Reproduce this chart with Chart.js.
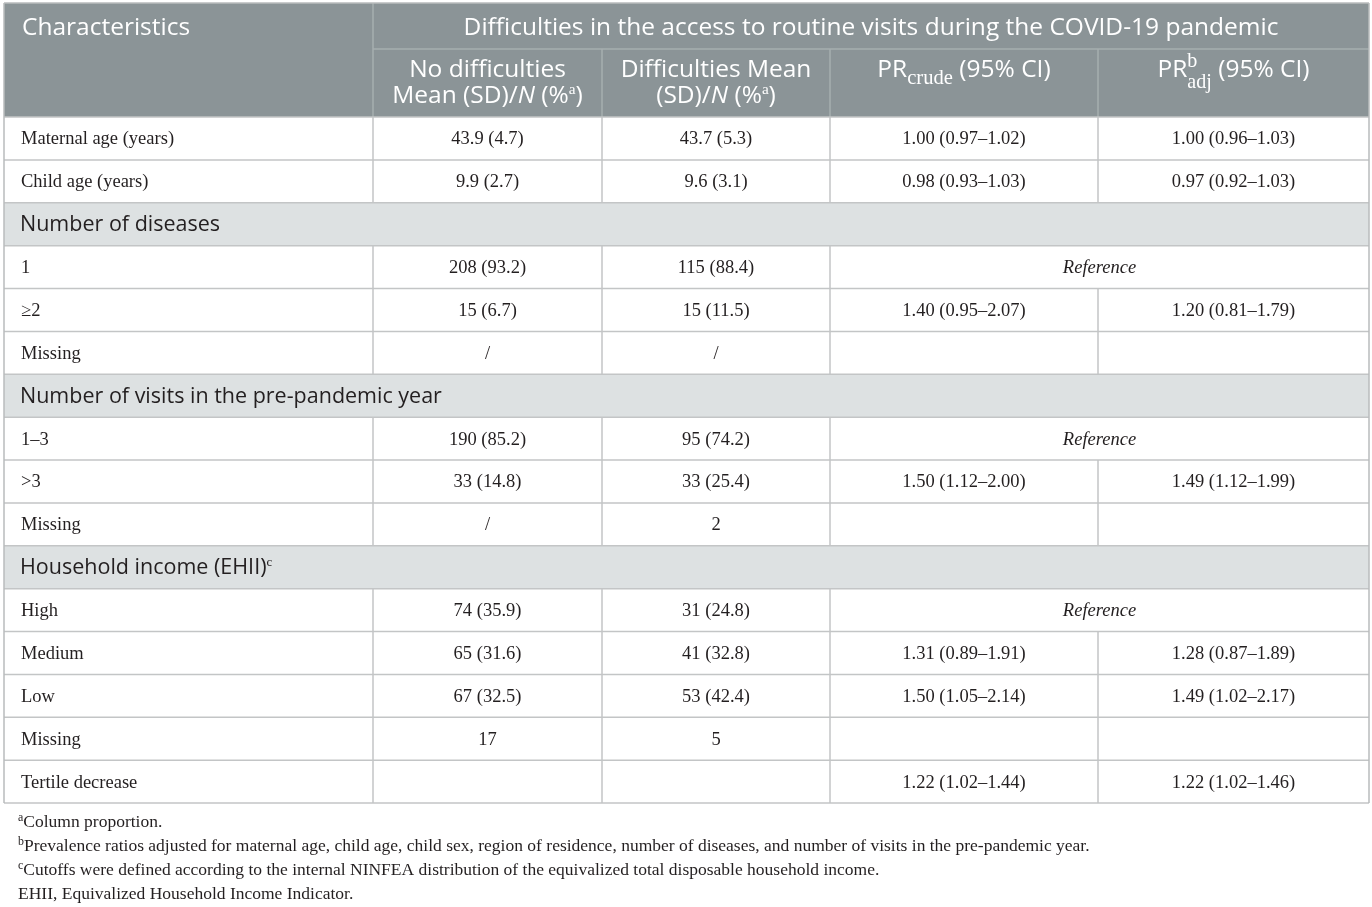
<!DOCTYPE html>
<html>
<head>
<meta charset="utf-8">
<script src="https://cdn.jsdelivr.net/npm/chart.js@4.4.1/dist/chart.umd.min.js"></script>
<style>
html,body{margin:0;padding:0;background:#fff;}
#wrap{position:absolute;left:0;top:0;width:1372px;height:907px;}
</style>
</head>
<body>
<div id="wrap"><canvas id="c"></canvas></div>
<script>
// ---------- DATA ----------
const headerTitle = "Difficulties in the access to routine visits during the COVID-19 pandemic";
const firstColumnTitle = "Characteristics";
const characteristics = ["Maternal age (years)","Child age (years)","Number of diseases","1","≥2","Missing","Number of visits in the pre-pandemic year","1–3",">3","Missing","Household income (EHII)","High","Medium","Low","Missing","Tertile decrease"];
const isSection = [false,false,true,false,false,false,true,false,false,false,true,false,false,false,false,false];
const sectionSup = ["","","","","","","","","","","c","","","","",""];
const noDifficulties = ["43.9 (4.7)","9.9 (2.7)","","208 (93.2)","15 (6.7)","/","","190 (85.2)","33 (14.8)","/","","74 (35.9)","65 (31.6)","67 (32.5)","17",""];
const difficulties = ["43.7 (5.3)","9.6 (3.1)","","115 (88.4)","15 (11.5)","/","","95 (74.2)","33 (25.4)","2","","31 (24.8)","41 (32.8)","53 (42.4)","5",""];
const prCrude = ["1.00 (0.97–1.02)","0.98 (0.93–1.03)","","Reference","1.40 (0.95–2.07)","","","Reference","1.50 (1.12–2.00)","","","Reference","1.31 (0.89–1.91)","1.50 (1.05–2.14)","","1.22 (1.02–1.44)"];
const prAdj = ["1.00 (0.96–1.03)","0.97 (0.92–1.03)","","Reference","1.20 (0.81–1.79)","","","Reference","1.49 (1.12–1.99)","","","Reference","1.28 (0.87–1.89)","1.49 (1.02–2.17)","","1.22 (1.02–1.46)"];
const footnotes = [
  ["a","Column proportion."],
  ["b","Prevalence ratios adjusted for maternal age, child age, child sex, region of residence, number of diseases, and number of visits in the pre-pandemic year."],
  ["c","Cutoffs were defined according to the internal NINFEA distribution of the equivalized total disposable household income."],
  ["","EHII, Equivalized Household Income Indicator."]
];

// ---------- LAYOUT (scale units) ----------
const colEdges = [0, 369, 598, 826, 1094, 1365];
const headRow1 = 46, headRow2 = 114, tableEnd = 800;
const bodyRowH = (tableEnd - headRow2) / characteristics.length;

const SANS = '"Open Sans", "Noto Sans", sans-serif';
const SERIF = '"Liberation Serif", "Times New Roman", serif';

function fnt(size, fam, italic){ return (italic ? 'italic ' : '') + size + 'px ' + fam; }

// rich text: runs [{t, i, sup, sub, fam, k (size factor), stack}]
function runSize(r, base){ return base.size * (r.k || ((r.sup || r.sub) ? 0.65 : 1)); }
function runWidth(ctx, r, base){
  if (r.stack){
    ctx.font = fnt(base.size * (r.k || 0.8), SERIF, false);
    return Math.max(ctx.measureText(r.stack[0]).width, ctx.measureText(r.stack[1]).width);
  }
  ctx.font = fnt(runSize(r, base), r.fam || base.fam, r.i);
  return ctx.measureText(r.t).width;
}
function drawRuns(ctx, runs, x, y, base, align){
  let w = 0;
  for (const r of runs) w += runWidth(ctx, r, base);
  let cx = align === 'center' ? x - w/2 : x;
  ctx.textBaseline = 'alphabetic';
  ctx.textAlign = 'left';
  ctx.fillStyle = base.color;
  for (const r of runs){
    const rw = runWidth(ctx, r, base);
    if (r.stack){
      ctx.fillText(r.stack[0], cx, y - base.size*0.40);
      ctx.fillText(r.stack[1], cx, y + base.size*0.44);
    } else {
      let dy = 0;
      if (r.sup) dy = -base.size*(r.dy || 0.36);
      if (r.sub) dy = base.size*(r.dy || 0.26);
      ctx.fillText(r.t, cx, y + dy);
    }
    cx += rw;
  }
}

const tablePlugin = {
  id: 'tablePlugin',
  afterDraw(chart){
    const ctx = chart.ctx;
    const xs = chart.scales.x, ys = chart.scales.y;
    const X = v => xs.getPixelForValue(v);
    const Y = v => ys.getPixelForValue(v);
    const L = X(colEdges[0]), R = X(colEdges[colEdges.length-1]);
    ctx.save();

    // header background
    ctx.fillStyle = '#8b9497';
    ctx.fillRect(L, Y(0), R-L, Y(headRow2)-Y(0));
    // section backgrounds
    characteristics.forEach((c, i) => {
      if (!isSection[i]) return;
      const y0 = Y(headRow2 + i*bodyRowH), y1 = Y(headRow2 + (i+1)*bodyRowH);
      ctx.fillStyle = '#dde1e2';
      ctx.fillRect(L, y0, R-L, y1-y0);
    });

    // header lines
    ctx.strokeStyle = '#a7aeb0';
    ctx.lineWidth = 1.5;
    ctx.beginPath();
    ctx.moveTo(X(colEdges[1]), Y(0)); ctx.lineTo(X(colEdges[1]), Y(headRow2));
    ctx.moveTo(X(colEdges[1]), Y(headRow1)); ctx.lineTo(R, Y(headRow1));
    for (let k = 2; k < colEdges.length-1; k++){
      ctx.moveTo(X(colEdges[k]), Y(headRow1)); ctx.lineTo(X(colEdges[k]), Y(headRow2));
    }
    ctx.stroke();

    // body lines
    ctx.strokeStyle = '#c3c5c6';
    ctx.lineWidth = 1.5;
    ctx.beginPath();
    for (let i = 0; i <= characteristics.length; i++){
      const yy = Y(headRow2 + i*bodyRowH);
      ctx.moveTo(L, yy); ctx.lineTo(R, yy);
    }
    characteristics.forEach((c, i) => {
      if (isSection[i]) return;
      const y0 = Y(headRow2 + i*bodyRowH), y1 = Y(headRow2 + (i+1)*bodyRowH);
      const merged = prCrude[i] === 'Reference';
      for (let k = 1; k < colEdges.length-1; k++){
        if (merged && k === 4) continue;
        ctx.moveTo(X(colEdges[k]), y0); ctx.lineTo(X(colEdges[k]), y1);
      }
    });
    ctx.stroke();
    // outer border
    ctx.strokeStyle = '#b9bcbd';
    ctx.beginPath();
    ctx.moveTo(L, Y(0)); ctx.lineTo(R, Y(0));
    ctx.moveTo(L, Y(0)); ctx.lineTo(L, Y(tableEnd));
    ctx.moveTo(R, Y(0)); ctx.lineTo(R, Y(tableEnd));
    ctx.stroke();

    // header text
    const hb = {size: 24.5, fam: SANS, color: '#ffffff'};
    const supA = {t:'a', sup:true, fam:SERIF, k:0.62, dy:0.38};
    drawRuns(ctx, [{t: firstColumnTitle}], X(colEdges[0]) + 18, Y(headRow1/2) + 9, hb, 'left');
    drawRuns(ctx, [{t: headerTitle}], (X(colEdges[1]) + R)/2, Y(headRow1/2) + 9, hb, 'center');
    const c1 = (X(colEdges[1]) + X(colEdges[2]))/2, c2 = (X(colEdges[2]) + X(colEdges[3]))/2;
    const c3 = (X(colEdges[3]) + X(colEdges[4]))/2, c4 = (X(colEdges[4]) + R)/2;
    const l1 = Y(headRow1) + 28, l2 = Y(headRow1) + 54;
    drawRuns(ctx, [{t:'No difficulties'}], c1, l1, hb, 'center');
    drawRuns(ctx, [{t:'Mean (SD)/'},{t:'N',i:true},{t:' (%'},supA,{t:')'}], c1, l2, hb, 'center');
    drawRuns(ctx, [{t:'Difficulties Mean'}], c2, l1, hb, 'center');
    drawRuns(ctx, [{t:'(SD)/'},{t:'N',i:true},{t:' (%'},supA,{t:')'}], c2, l2, hb, 'center');
    drawRuns(ctx, [{t:'PR'},{t:'crude',sub:true,fam:SERIF,k:0.84,dy:0.28},{t:' (95% CI)'}], c3, l1, hb, 'center');
    drawRuns(ctx, [{t:'PR'},{stack:['b','adj'],k:0.82},{t:' (95% CI)'}], c4, l1, hb, 'center');

    // body text
    const bb = {size: 18.5, fam: SERIF, color: '#231f20'};
    const sb = {size: 21.5, fam: SANS, color: '#231f20'};
    characteristics.forEach((c, i) => {
      const yc = Y(headRow2 + (i+0.5)*bodyRowH);
      if (isSection[i]){
        const runs = [{t:c}];
        if (sectionSup[i]) runs.push({t:sectionSup[i], sup:true, fam:SERIF, k:0.6, dy:0.4});
        drawRuns(ctx, runs, X(colEdges[0]) + 16, yc + 7, sb, 'left');
        return;
      }
      const base = yc + 6;
      drawRuns(ctx, [{t:c}], X(colEdges[0]) + 17, base, bb, 'left');
      drawRuns(ctx, [{t:noDifficulties[i]}], c1, base, bb, 'center');
      drawRuns(ctx, [{t:difficulties[i]}], c2, base, bb, 'center');
      if (prCrude[i] === 'Reference'){
        drawRuns(ctx, [{t:'Reference', i:true}], (X(colEdges[3]) + R)/2, base, bb, 'center');
      } else {
        drawRuns(ctx, [{t:prCrude[i]}], c3, base, bb, 'center');
        drawRuns(ctx, [{t:prAdj[i]}], c4, base, bb, 'center');
      }
    });

    // footnotes
    const fb = {size: 17.5, fam: SERIF, color: '#231f20'};
    footnotes.forEach((f, k) => {
      const yb = Y(tableEnd) + 24 + k*24;
      const runs = [];
      if (f[0]) runs.push({t:f[0], sup:true, k:0.68, dy:0.36});
      runs.push({t:f[1]});
      drawRuns(ctx, runs, L + 14, yb, fb, 'left');
    });
    ctx.restore();
  }
};

new Chart(document.getElementById('c'), {
  type: 'scatter',
  data: { datasets: [{ data: [], pointRadius: 0 }] },
  options: {
    responsive: true,
    maintainAspectRatio: false,
    animation: false,
    events: [],
    layout: { padding: { left: 4, right: 3, top: 3, bottom: 104 } },
    plugins: { legend: { display: false }, tooltip: { enabled: false } },
    scales: {
      x: { type: 'linear', min: colEdges[0], max: colEdges[colEdges.length-1], display: false },
      y: { type: 'linear', min: 0, max: tableEnd, reverse: true, display: false }
    }
  },
  plugins: [tablePlugin]
});
</script>
</body>
</html>
